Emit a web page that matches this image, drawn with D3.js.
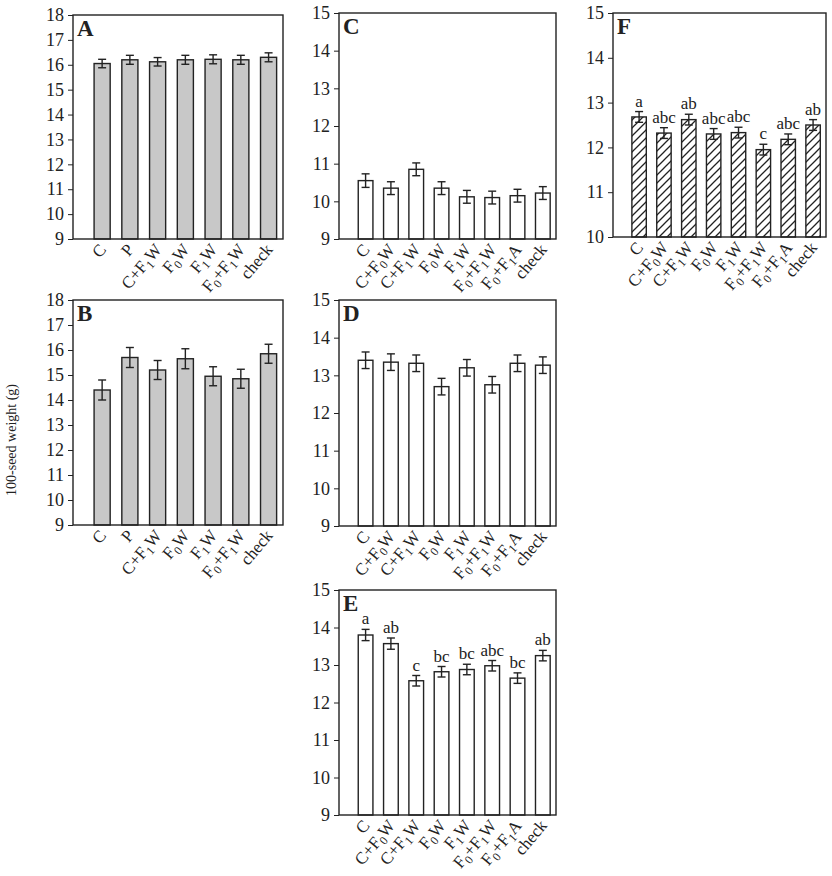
<!DOCTYPE html>
<html><head><meta charset="utf-8">
<script src="https://cdn.jsdelivr.net/npm/d3@7"></script>
<style>
body{margin:0;background:#fff;}
svg text{font-family:"Liberation Serif","Times New Roman",serif;fill:#222;}
</style></head><body>
<script>
// categories (_n marks a subscript)
const catsAB = ["C","P","C+F_1W","F_0W","F_1W","F_0+F_1W","check"];
const catsCF = ["C","C+F_0W","C+F_1W","F_0W","F_1W","F_0+F_1W","F_0+F_1A","check"];

// series values and error bars
const valA = [16.05,16.2,16.12,16.2,16.22,16.2,16.3];
const errA = [0.17,0.18,0.17,0.18,0.18,0.18,0.18];
const valB = [14.4,15.7,15.2,15.65,14.95,14.85,15.85];
const errB = [0.4,0.4,0.38,0.4,0.38,0.38,0.38];
const valC = [10.55,10.35,10.85,10.35,10.12,10.1,10.15,10.22];
const errC = [0.18,0.17,0.17,0.17,0.17,0.17,0.17,0.17];
const valD = [13.4,13.35,13.32,12.7,13.2,12.75,13.32,13.27];
const errD = [0.22,0.22,0.22,0.22,0.22,0.22,0.22,0.22];
const valE = [13.8,13.57,12.58,12.82,12.88,12.98,12.65,13.25];
const errE = [0.15,0.15,0.14,0.14,0.14,0.14,0.14,0.14];
const letE = ["a","ab","c","bc","bc","abc","bc","ab"];
const valF = [12.68,12.32,12.62,12.3,12.33,11.95,12.18,12.5];
const errF = [0.12,0.12,0.12,0.12,0.12,0.12,0.12,0.12];
const letF = ["a","abc","ab","abc","abc","c","abc","ab"];

const svg = d3.select("body").append("svg").attr("width",832).attr("height",876);

const defs = svg.append("defs");
const pat = defs.append("pattern").attr("id","hatch").attr("patternUnits","userSpaceOnUse")
    .attr("width",8).attr("height",8);
pat.append("rect").attr("width",8).attr("height",8).attr("fill","#fff");
pat.append("path").attr("d","M-2,2 L2,-2 M0,8 L8,0 M6,10 L10,6").attr("stroke","#222").attr("stroke-width",1.3);

//Draw one panel
function panel(o){
    const g = svg.append("g");
    const x = d3.scaleLinear().domain([-1.05, o.cats.length-0.48]).range([o.x0,o.x1]);
    const y = d3.scaleLinear().domain(o.dom).range([o.y1,o.y0]);
    const step = x(1)-x(0);
    const bw = step*0.58;

    g.selectAll("rect.bar").data(o.vals).enter().append("rect")
        .attr("x",(d,i)=>x(i)-bw/2).attr("width",bw)
        .attr("y",d=>y(d)).attr("height",d=>y(o.dom[0])-y(d))
        .attr("fill",o.fill).attr("stroke","#222").attr("stroke-width",1.4);

    const eb = g.selectAll("g.err").data(o.vals).enter().append("g").attr("stroke","#222").attr("stroke-width",1.4);
    eb.append("line").attr("x1",(d,i)=>x(i)).attr("x2",(d,i)=>x(i))
        .attr("y1",(d,i)=>y(d+o.errs[i])).attr("y2",(d,i)=>y(d-o.errs[i]));
    eb.append("line").attr("x1",(d,i)=>x(i)-4).attr("x2",(d,i)=>x(i)+4)
        .attr("y1",(d,i)=>y(d+o.errs[i])).attr("y2",(d,i)=>y(d+o.errs[i]));
    eb.append("line").attr("x1",(d,i)=>x(i)-4).attr("x2",(d,i)=>x(i)+4)
        .attr("y1",(d,i)=>y(d-o.errs[i])).attr("y2",(d,i)=>y(d-o.errs[i]));

    if(o.lets){
        g.selectAll("text.let").data(o.lets).enter().append("text")
            .attr("x",(d,i)=>x(i)).attr("y",(d,i)=>y(o.vals[i]+o.errs[i])-5)
            .attr("text-anchor","middle").style("font-size","17px").text(d=>d);
    }

    g.append("rect").attr("x",o.x0).attr("y",o.y0).attr("width",o.x1-o.x0).attr("height",o.y1-o.y0)
        .attr("fill","none").attr("stroke","#222").attr("stroke-width",1.4);

    const ya = g.append("g").attr("transform",`translate(${o.x0},0)`)
        .call(d3.axisLeft(y).ticks(o.dom[1]-o.dom[0]).tickSize(5).tickPadding(4).tickFormat(d3.format("d")));
    ya.attr("font-family",null);
    ya.select(".domain").remove();
    ya.selectAll("line").attr("stroke","#222");
    ya.selectAll("text").style("font-size","18px").attr("fill","#222");

    g.append("text").attr("x",o.x0+4).attr("y",o.y0+21).style("font-size","23px").style("font-weight","bold").text(o.name);

    o.cats.forEach((c,i)=>{
        const t = g.append("text").attr("text-anchor","end").style("font-size","17px")
            .attr("transform",`translate(${x(i)+5},${o.y1+11}) rotate(-50)`);
        let shifted = false;
        c.split(/(_\d)/).filter(s=>s).forEach(s=>{
            if(s[0]=="_"){ t.append("tspan").attr("dy",4).style("font-size","12px").text(s[1]); shifted = true; }
            else { t.append("tspan").attr("dy",shifted?-4:0).text(s); shifted = false; }
        });
    });
}

panel({name:"A",cats:catsAB,vals:valA,errs:errA,dom:[9,18],x0:73,x1:283,y0:15,y1:239,fill:"#c8c8c8"});
panel({name:"B",cats:catsAB,vals:valB,errs:errB,dom:[9,18],x0:73,x1:283,y0:300,y1:525,fill:"#c8c8c8"});
panel({name:"C",cats:catsCF,vals:valC,errs:errC,dom:[9,15],x0:339,x1:556,y0:13,y1:239,fill:"#fff"});
panel({name:"D",cats:catsCF,vals:valD,errs:errD,dom:[9,15],x0:339,x1:556,y0:300,y1:526,fill:"#fff"});
panel({name:"E",cats:catsCF,vals:valE,errs:errE,dom:[9,15],x0:339,x1:556,y0:590,y1:815,lets:letE,fill:"#fff"});
panel({name:"F",cats:catsCF,vals:valF,errs:errF,dom:[10,15],x0:613,x1:826,y0:13,y1:237,lets:letF,fill:"url(#hatch)"});

svg.append("text").attr("transform","translate(16,440) rotate(-90)").attr("text-anchor","middle")
    .style("font-size","14px").text("100-seed weight (g)");
</script>
</body></html>
